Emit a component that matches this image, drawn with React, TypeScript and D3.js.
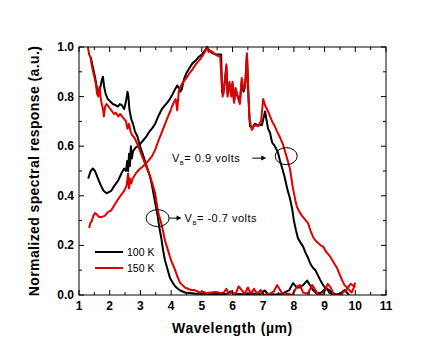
import React from 'react';
import * as d3 from 'd3';

// wavelength (um), normalized response
const black100Neg: [number, number][] = [
  [1.38, 0.96], [1.45, 0.92], [1.52, 0.88], [1.59, 0.83], [1.65, 0.82], [1.7, 0.84], [1.75, 0.87], [1.78, 0.88],
  [1.82, 0.84], [1.87, 0.81], [1.94, 0.79], [2.02, 0.78], [2.1, 0.77], [2.2, 0.765], [2.27, 0.76], [2.33, 0.77],
  [2.4, 0.765], [2.47, 0.75], [2.53, 0.78], [2.58, 0.82], [2.61, 0.8], [2.64, 0.75], [2.7, 0.71], [2.76, 0.69],
  [2.82, 0.66], [2.9, 0.64], [2.99, 0.6], [3.07, 0.57], [3.15, 0.54], [3.23, 0.51], [3.31, 0.48], [3.38, 0.44],
  [3.44, 0.4], [3.5, 0.36], [3.56, 0.32], [3.62, 0.27], [3.68, 0.23], [3.74, 0.18], [3.8, 0.14], [3.87, 0.11],
  [3.96, 0.07], [4.05, 0.05], [4.13, 0.035], [4.22, 0.025], [4.3, 0.018], [4.45, 0.01], [4.6, 0.008], [4.8, 0.005],
  [5.0, 0.005], [5.3, 0.003], [5.6, 0.005], [5.8, 0.004], [5.95, 0.015], [6.05, 0.005], [6.3, 0.003], [6.6, 0.006],
  [6.9, 0.004], [7.05, 0.018], [7.15, 0.004], [7.4, 0.002], [7.6, 0.004], [7.85, 0.02], [7.97, 0.048], [8.1, 0.03],
  [8.2, 0.03], [8.3, 0.04], [8.43, 0.058], [8.52, 0.04], [8.62, 0.02], [8.75, 0.005], [8.9, 0.01], [9.05, 0.03],
  [9.15, 0.01], [9.3, 0.0], [9.5, 0.005], [9.65, 0.02], [9.8, 0.0],
];

const red150Neg: [number, number][] = [
  [1.29, 1.0], [1.33, 0.97], [1.37, 0.96], [1.41, 0.93], [1.46, 0.9], [1.5, 0.88], [1.55, 0.85], [1.59, 0.81],
  [1.63, 0.8], [1.67, 0.84], [1.7, 0.8], [1.74, 0.77], [1.78, 0.75], [1.81, 0.72], [1.85, 0.76], [1.9, 0.77],
  [1.96, 0.76], [2.02, 0.75], [2.08, 0.74], [2.14, 0.73], [2.2, 0.735], [2.28, 0.72], [2.34, 0.73], [2.4, 0.72],
  [2.47, 0.71], [2.53, 0.7], [2.58, 0.67], [2.63, 0.69], [2.68, 0.66], [2.73, 0.645], [2.8, 0.635], [2.86, 0.62],
  [2.93, 0.6], [2.99, 0.58], [3.07, 0.555], [3.15, 0.53], [3.23, 0.505], [3.31, 0.48], [3.4, 0.445], [3.48, 0.41],
  [3.53, 0.37], [3.57, 0.34], [3.63, 0.31], [3.7, 0.28], [3.75, 0.25], [3.8, 0.22], [3.85, 0.2], [3.9, 0.18],
  [3.96, 0.155], [4.03, 0.13], [4.1, 0.11], [4.16, 0.09], [4.22, 0.07], [4.29, 0.05], [4.37, 0.04], [4.45, 0.03],
  [4.55, 0.025], [4.65, 0.02], [4.75, 0.02], [4.85, 0.015], [4.95, 0.01], [5.05, 0.012], [5.15, 0.008], [5.3, 0.01],
  [5.45, 0.012], [5.6, 0.008], [5.72, 0.01], [5.8, 0.025], [5.88, 0.005], [5.98, 0.01], [6.1, 0.005], [6.2, 0.035],
  [6.3, 0.02], [6.4, 0.005], [6.5, 0.03], [6.6, 0.005], [6.7, 0.025], [6.8, 0.005], [6.92, 0.02], [7.0, 0.0],
  [7.2, 0.005], [7.35, 0.015], [7.45, 0.04], [7.55, 0.02], [7.65, 0.0], [7.8, 0.005], [7.95, 0.0], [8.1, 0.035],
  [8.2, 0.04], [8.3, 0.01], [8.45, 0.005], [8.6, 0.04], [8.7, 0.02], [8.8, 0.0], [8.95, 0.0], [9.1, 0.045],
  [9.2, 0.03], [9.3, 0.0], [9.5, 0.0], [9.7, 0.02], [9.85, 0.045], [10.0, 0.03],
];

const black100Pos: [number, number][] = [
  [1.3, 0.47], [1.38, 0.5], [1.45, 0.51], [1.52, 0.5], [1.6, 0.475], [1.7, 0.445], [1.8, 0.42], [1.9, 0.41],
  [1.97, 0.415], [2.05, 0.42], [2.15, 0.44], [2.27, 0.46], [2.38, 0.49], [2.47, 0.51], [2.53, 0.5], [2.57, 0.54],
  [2.6, 0.5], [2.63, 0.57], [2.66, 0.52], [2.69, 0.6], [2.72, 0.55], [2.76, 0.58], [2.85, 0.595], [2.92, 0.6],
  [3.0, 0.61], [3.1, 0.625], [3.2, 0.64], [3.3, 0.66], [3.4, 0.675], [3.48, 0.69], [3.58, 0.72], [3.7, 0.75],
  [3.8, 0.765], [3.9, 0.78], [3.96, 0.79], [4.05, 0.81], [4.13, 0.83], [4.2, 0.845], [4.25, 0.835], [4.3, 0.82],
  [4.35, 0.83], [4.42, 0.87], [4.5, 0.895], [4.6, 0.915], [4.7, 0.935], [4.8, 0.945], [4.9, 0.96], [5.0, 0.97],
  [5.1, 0.985], [5.17, 1.0], [5.25, 0.985], [5.35, 0.975], [5.45, 0.97], [5.55, 0.97], [5.6, 0.97], [5.63, 0.97],
  [5.66, 0.82], [5.7, 0.81], [5.75, 0.86], [5.8, 0.92], [5.84, 0.81], [5.9, 0.85], [5.96, 0.81], [6.0, 0.85],
  [6.05, 0.78], [6.1, 0.83], [6.17, 0.8], [6.24, 0.78], [6.3, 0.86], [6.36, 0.82], [6.41, 0.84], [6.47, 0.97],
  [6.52, 0.8], [6.57, 0.68], [6.65, 0.675], [6.73, 0.69], [6.83, 0.685], [6.96, 0.685], [7.06, 0.74], [7.16, 0.67],
  [7.22, 0.655], [7.29, 0.615], [7.38, 0.6], [7.48, 0.575], [7.55, 0.54], [7.61, 0.515], [7.7, 0.475], [7.78, 0.43],
  [7.87, 0.39], [7.94, 0.35], [8.0, 0.3], [8.06, 0.265], [8.13, 0.23], [8.22, 0.21], [8.3, 0.195], [8.38, 0.17],
  [8.46, 0.15], [8.54, 0.125], [8.62, 0.11], [8.7, 0.1], [8.78, 0.08], [8.86, 0.06], [8.95, 0.04], [9.05, 0.025],
  [9.15, 0.02], [9.25, 0.01], [9.4, 0.0], [9.6, 0.0],
];

const red150Pos: [number, number][] = [
  [1.33, 0.27], [1.37, 0.29], [1.42, 0.3], [1.47, 0.32], [1.52, 0.33], [1.58, 0.325], [1.65, 0.315], [1.75, 0.315],
  [1.85, 0.32], [1.95, 0.335], [2.04, 0.34], [2.14, 0.36], [2.24, 0.38], [2.35, 0.4], [2.47, 0.42], [2.55, 0.44],
  [2.6, 0.49], [2.63, 0.43], [2.66, 0.47], [2.7, 0.45], [2.75, 0.47], [2.85, 0.49], [2.95, 0.505], [3.05, 0.515],
  [3.18, 0.53], [3.28, 0.545], [3.38, 0.56], [3.48, 0.585], [3.58, 0.62], [3.66, 0.645], [3.74, 0.67], [3.82, 0.695],
  [3.9, 0.72], [3.97, 0.74], [4.03, 0.76], [4.1, 0.78], [4.15, 0.79], [4.2, 0.745], [4.25, 0.82], [4.3, 0.84],
  [4.4, 0.86], [4.5, 0.875], [4.6, 0.895], [4.7, 0.91], [4.8, 0.93], [4.94, 0.95], [5.05, 0.97], [5.12, 0.985],
  [5.17, 1.0], [5.22, 0.98], [5.3, 0.985], [5.4, 0.975], [5.5, 0.965], [5.6, 0.96], [5.64, 0.875], [5.68, 0.8],
  [5.72, 0.835], [5.76, 0.875], [5.8, 0.93], [5.84, 0.8], [5.9, 0.86], [5.96, 0.8], [6.0, 0.86], [6.05, 0.775],
  [6.1, 0.835], [6.17, 0.8], [6.24, 0.77], [6.3, 0.875], [6.36, 0.83], [6.41, 0.835], [6.47, 0.975], [6.5, 0.87],
  [6.55, 0.71], [6.63, 0.665], [6.72, 0.685], [6.83, 0.68], [6.93, 0.7], [7.0, 0.79], [7.06, 0.765], [7.16, 0.74],
  [7.29, 0.7], [7.38, 0.68], [7.45, 0.66], [7.55, 0.635], [7.65, 0.605], [7.72, 0.575], [7.78, 0.55], [7.87, 0.51],
  [7.97, 0.43], [8.05, 0.38], [8.1, 0.355], [8.18, 0.335], [8.26, 0.32], [8.36, 0.305], [8.46, 0.29], [8.54, 0.26],
  [8.62, 0.235], [8.7, 0.22], [8.79, 0.21], [8.87, 0.2], [8.95, 0.195], [9.05, 0.175], [9.18, 0.155], [9.3, 0.13],
  [9.4, 0.11], [9.5, 0.08], [9.57, 0.06], [9.65, 0.04], [9.73, 0.03], [9.8, 0.02], [9.88, 0.01], [9.95, 0.03],
  [10.0, 0.05],
];

const xTicks = [1, 2, 3, 4, 5, 6, 7, 8, 9, 10, 11];
const yTicks = [0, 0.2, 0.4, 0.6, 0.8, 1.0];
const legendItems = [
  { label: '100 K', color: '#000' },
  { label: '150 K', color: '#e00000' },
];

const W = 431;
const H = 361;
const left = 79, right = 386, top = 47, bottom = 295;

export default function App() {
  const x = d3.scaleLinear().domain([1, 11]).range([left, right]);
  const y = d3.scaleLinear().domain([0, 1]).range([bottom, top]);
  const line = d3.line<[number, number]>().x(d => x(d[0])).y(d => y(d[1]));

  const xMinor = d3.range(1.5, 11, 1);
  const yMinor = d3.range(0.1, 1, 0.2);
  const font = 'Arial, "Liberation Sans", sans-serif';

  const series = [
    { d: black100Pos, c: '#000' },
    { d: black100Neg, c: '#000' },
    { d: red150Pos, c: '#e00000' },
    { d: red150Neg, c: '#e00000' },
  ];

  // annotation anchors in data units
  const e1 = { cx: x(3.56), cy: y(0.31) };
  const e2 = { cx: x(7.75), cy: y(0.56) };

  return (
    <svg width={W} height={H} style={{ position: 'fixed', left: 0, top: 0, background: '#fff' }} fontFamily={font}>
      <rect x={0} y={0} width={W} height={H} fill="#fff" />
      <defs>
        <clipPath id="plot">
          <rect x={left} y={top - 1} width={right - left} height={bottom - top + 1} />
        </clipPath>
      </defs>
      <g clipPath="url(#plot)" fill="none" strokeWidth={2} strokeLinejoin="round">
        {series.map((s, i) => (
          <path key={i} d={line(s.d) || ''} stroke={s.c} />
        ))}
      </g>

      <rect x={left} y={top} width={right - left} height={bottom - top} fill="none" stroke="#000" strokeWidth={1} />

      {xTicks.map(t => (
        <g key={'x' + t}>
          <line x1={x(t)} x2={x(t)} y1={bottom} y2={bottom - 5} stroke="#000" />
          <line x1={x(t)} x2={x(t)} y1={top} y2={top + 5} stroke="#000" />
          <text x={x(t)} y={bottom + 15} textAnchor="middle" fontSize={12} fontWeight="bold">{t}</text>
        </g>
      ))}
      {xMinor.map(t => (
        <g key={'xm' + t}>
          <line x1={x(t)} x2={x(t)} y1={bottom} y2={bottom - 3} stroke="#000" />
          <line x1={x(t)} x2={x(t)} y1={top} y2={top + 3} stroke="#000" />
        </g>
      ))}
      {yTicks.map(t => (
        <g key={'y' + t}>
          <line x1={left} x2={left + 5} y1={y(t)} y2={y(t)} stroke="#000" />
          <line x1={right} x2={right - 5} y1={y(t)} y2={y(t)} stroke="#000" />
          <text x={left - 5} y={y(t) + 4} textAnchor="end" fontSize={12} fontWeight="bold">{t.toFixed(1)}</text>
        </g>
      ))}
      {yMinor.map(t => (
        <g key={'ym' + t}>
          <line x1={left} x2={left + 3} y1={y(t)} y2={y(t)} stroke="#000" />
          <line x1={right} x2={right - 3} y1={y(t)} y2={y(t)} stroke="#000" />
        </g>
      ))}

      <text x={(left + right) / 2} y={333} textAnchor="middle" fontSize={14} fontWeight="bold" letterSpacing={0.6}>
        Wavelength (µm)
      </text>
      <text transform={`translate(39,${(top + bottom) / 2}) rotate(-90)`} textAnchor="middle" fontSize={14} fontWeight="bold" letterSpacing={0.4}>
        Normalized spectral response (a.u.)
      </text>

      {/* legend */}
      {legendItems.map((l, i) => (
        <g key={l.label}>
          <line x1={95} x2={123} y1={252 + i * 16} y2={252 + i * 16} stroke={l.color} strokeWidth={2} />
          <text x={127} y={256 + i * 16} fontSize={10.5}>{l.label}</text>
        </g>
      ))}

      {/* annotations */}
      <ellipse cx={e1.cx} cy={e1.cy} rx={11.5} ry={8.5} fill="none" stroke="#000" />
      <line x1={e1.cx + 11.5} x2={e1.cx + 20} y1={e1.cy} y2={e1.cy} stroke="#000" />
      <path d={`M${e1.cx + 24},${e1.cy} l-5,-2.5 l0,5 z`} fill="#000" />
      <text x={e1.cx + 27} y={e1.cy + 4} fontSize={11} letterSpacing={0.5}>
        V<tspan fontSize={6} dy={3}>B</tspan><tspan dy={-3}>= -0.7 volts</tspan>
      </text>

      <ellipse cx={e2.cx} cy={e2.cy} rx={11} ry={8.5} fill="none" stroke="#000" />
      <line x1={e2.cx - 34} x2={e2.cx - 24} y1={e2.cy + 2} y2={e2.cy + 2} stroke="#000" />
      <path d={`M${e2.cx - 20},${e2.cy + 2} l-5,-2.5 l0,5 z`} fill="#000" />
      <text x={172} y={e2.cy + 6} fontSize={11} letterSpacing={0.5}>
        V<tspan fontSize={6} dy={3}>B</tspan><tspan dy={-3}>= 0.9 volts</tspan>
      </text>
    </svg>
  );
}
